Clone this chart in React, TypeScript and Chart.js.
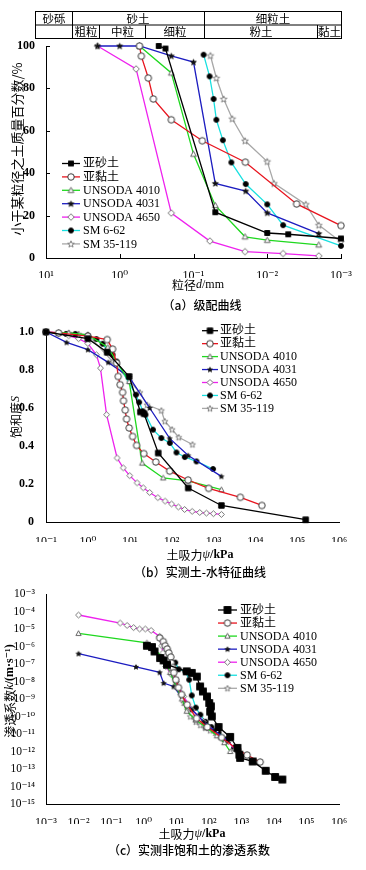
import React, { useEffect, useRef } from 'react';
import { Chart, registerables } from 'chart.js';

Chart.register(...registerables);

const SERIF = '"Liberation Serif", "DejaVu Serif", "Noto Sans CJK SC", serif';
const CJK = '"Noto Sans CJK SC", "Liberation Serif", sans-serif';

// ---------- series meta ----------
const seriesNames = ['亚砂土', '亚黏土', 'UNSODA 4010', 'UNSODA 4031', 'UNSODA 4650', 'SM 6-62', 'SM 35-119'];
const seriesColors = ['#000000', '#e8141e', '#1fd81f', '#1c1cc0', '#ee22ee', '#18e0e0', '#a8a8a8'];
const markerKinds = ['square', 'circle', 'triangle', 'star', 'diamond', 'circle', 'star'];
const markerFills = ['#000000', '#ffffff', '#ffffff', '#111111', '#ffffff', '#000000', '#ffffff'];
const markerStrokes = ['#000000', '#222222', '#555555', '#111111', '#666666', '#000000', '#777777'];
const markerSizesA = [5, 6.5, 6, 6, 6.5, 5, 7];
const markerSizesB = [5.5, 6.5, 5.5, 5, 6, 5, 6.5];
const markerSizesC = [7, 6.5, 5.5, 5, 6, 5, 6.5];

// ---------- (a) gradation curves: d (mm) vs percent finer ----------
const gradTickValues = [10, 1, 0.1, 0.01, 0.001];
const gradTickLabels = ['10¹', '10⁰', '10⁻¹', '10⁻²', '10⁻³'];
const percentTickValues = [0, 20, 40, 60, 80, 100];
const percentTickLabels = ['0', '20', '40', '60', '80', '100'];

const gradSandyD = [0.296, 0.24, 0.0507, 0.01, 0.0052, 0.001];
const gradSandyP = [100, 98.8, 21.6, 11.8, 11.2, 9.2];
const gradClayD = [0.54, 0.51, 0.41, 0.35, 0.2, 0.076, 0.0198, 0.004, 0.001];
const gradClayP = [100, 95.2, 84.9, 75, 65.2, 55.3, 45.2, 25.5, 15.3];
const grad4010D = [0.54, 0.2, 0.1, 0.0507, 0.02, 0.01, 0.002];
const grad4010P = [100, 87.3, 49, 24.8, 10, 8.4, 6.2];
const grad4031D = [2.0, 1.0, 0.54, 0.2, 0.1, 0.0507, 0.0196, 0.01, 0.002];
const grad4031P = [100, 100, 100, 95.3, 92.4, 35.2, 31.6, 21.3, 11.5];
const grad4650D = [2.0, 0.6, 0.2, 0.06, 0.02, 0.0061, 0.002];
const grad4650P = [100, 89.2, 21.2, 8, 3, 2.1, 1];
const gradSM662D = [0.073, 0.0605, 0.0534, 0.049, 0.04, 0.0307, 0.0196, 0.01, 0.0061, 0.001];
const gradSM662P = [95.9, 85.7, 75, 65.2, 55.6, 45.1, 34.9, 25.3, 15.5, 5.7];
const gradSM35119D = [0.059, 0.049, 0.039, 0.0298, 0.02, 0.01, 0.0081, 0.003, 0.002, 0.001];
const gradSM35119P = [95.5, 84.9, 75, 65.7, 55.3, 45.5, 35.2, 25.3, 15.5, 7.5];

// ---------- (b) soil-water characteristic curves: suction (kPa) vs saturation ----------
const suctionTickValuesB = [0.1, 1, 10, 100, 1000, 1e4, 1e5, 1e6];
const suctionTickLabelsB = ['10⁻¹', '10⁰', '10¹', '10²', '10³', '10⁴', '10⁵', '10⁶'];
const satTickValues = [0, 0.2, 0.4, 0.6, 0.8, 1.0];
const satTickLabels = ['0', '0.2', '0.4', '0.6', '0.8', '1.0'];

const swccSandyPsi = [0.1, 1.0, 2.9, 9.7, 18, 22, 48, 250, 1550, 160000];
const swccSandyS = [1.0, 0.965, 0.893, 0.766, 0.579, 0.57, 0.363, 0.179, 0.087, 0.012];
const swccClayPsi = [0.1, 0.2, 1.0, 2.9, 3.9, 4.85, 5.3, 5.9, 6.76, 7.1, 7.8, 8.4, 9.7, 11.7, 14.6, 21.7, 42, 90, 248, 770, 4400, 14400];
const swccClayS = [1.0, 0.995, 0.978, 0.96, 0.91, 0.837, 0.766, 0.723, 0.682, 0.638, 0.589, 0.542, 0.495, 0.45, 0.403, 0.36, 0.316, 0.268, 0.221, 0.177, 0.13, 0.087];
const swcc4010Psi = [0.2, 0.35, 1.0, 3.0, 5.0, 9.7, 19.8, 63, 248, 1550];
const swcc4010S = [0.995, 0.995, 0.985, 0.92, 0.84, 0.74, 0.31, 0.232, 0.216, 0.17];
const swcc4031Psi = [0.1, 0.31, 1.0, 3.06, 9.7, 30, 90, 250, 1550];
const swcc4031S = [1.0, 0.945, 0.907, 0.84, 0.763, 0.6, 0.44, 0.35, 0.24];
const swcc4650Psi = [0.1, 0.2, 0.35, 0.6, 1.0, 1.6, 2.0, 2.8, 5.0, 7.0, 10, 15, 21, 30, 47, 70, 100, 145, 205, 310, 470, 680, 1000, 1550];
const swcc4650S = [1.0, 0.995, 0.98, 0.965, 0.94, 0.88, 0.81, 0.565, 0.337, 0.285, 0.244, 0.206, 0.18, 0.155, 0.128, 0.11, 0.095, 0.079, 0.066, 0.056, 0.05, 0.047, 0.044, 0.04];
const swccSM662Psi = [0.1, 0.3, 0.5, 1.0, 1.6, 2.25, 2.9, 3.9, 4.85, 14, 16.8, 21, 23.8, 36, 57, 91, 131, 207, 393, 980];
const swccSM662S = [1.0, 0.99, 0.99, 0.98, 0.963, 0.938, 0.905, 0.88, 0.845, 0.67, 0.63, 0.582, 0.565, 0.486, 0.442, 0.416, 0.366, 0.342, 0.319, 0.279];
const swccSM35119Psi = [0.1, 0.2, 0.35, 0.6, 1.0, 3.9, 10, 17.5, 26, 57, 69, 103, 148, 316];
const swccSM35119S = [1.0, 0.995, 0.995, 0.99, 0.985, 0.845, 0.74, 0.682, 0.617, 0.587, 0.53, 0.487, 0.446, 0.408];

// ---------- (c) permeability: suction (kPa) vs k (m/s) ----------
const suctionTickValuesC = [1e-3, 1e-2, 0.1, 1, 10, 100, 1000, 1e4, 1e5, 1e6];
const suctionTickLabelsC = ['10⁻³', '10⁻²', '10⁻¹', '10⁰', '10¹', '10²', '10³', '10⁴', '10⁵', '10⁶'];
const kTickValues = [1e-3, 1e-4, 1e-5, 1e-6, 1e-7, 1e-8, 1e-9, 1e-10, 1e-11, 1e-12, 1e-13, 1e-14, 1e-15];
const kTickLabels = ['10⁻³', '10⁻⁴', '10⁻⁵', '10⁻⁶', '10⁻⁷', '10⁻⁸', '10⁻⁹', '10⁻¹⁰', '10⁻¹¹', '10⁻¹²', '10⁻¹³', '10⁻¹⁴', '10⁻¹⁵'];

const kSandyPsi = [1.26, 1.8, 2.16, 3.2, 4.1, 5.2, 21, 30, 43, 54, 66, 88, 103, 116, 110, 124, 200, 453, 760, 870, 918, 2240, 5600, 10900, 18200];
const kSandyK = [1.1e-6, 9.3e-7, 5.2e-7, 2.2e-7, 1.6e-7, 9.1e-8, 3.8e-8, 3.1e-8, 1.9e-8, 5.2e-9, 2.7e-9, 1.4e-9, 5.9e-10, 3.8e-10, 1.9e-10, 1.0e-10, 2.5e-11, 6.8e-12, 1.6e-12, 6.6e-13, 4.3e-13, 2.7e-13, 7.9e-14, 3.5e-14, 2.5e-14];
const kClayPsi = [3.1, 4.0, 4.6, 5.3, 5.9, 6.8, 7.1, 7.8, 8.4, 9.7, 11.7, 14.6, 21.7, 42, 90, 248, 770, 1500, 3780];
const kClayK = [3.1e-6, 1.9e-6, 1.1e-6, 7.2e-7, 4.3e-7, 2.5e-7, 1.15e-7, 6.3e-8, 3.2e-8, 1.26e-8, 4.5e-9, 1.8e-9, 4.7e-10, 7.9e-11, 2.5e-11, 6.3e-12, 1.26e-12, 6.3e-13, 2.5e-13];
const k4010Psi = [0.01, 1.26, 4.1, 6.5, 10, 15, 21, 40, 80, 178, 300, 453];
const k4010K = [5.6e-6, 1.6e-6, 2.2e-7, 3.3e-8, 5e-9, 1e-9, 2e-10, 6.3e-11, 2.5e-11, 7.9e-12, 3.2e-12, 1e-12];
const k4031Psi = [0.01, 0.58, 3.1, 4.1, 8.3, 15, 30, 70, 150, 400];
const k4031K = [3.9e-7, 6.8e-8, 3.3e-8, 8.1e-9, 5.2e-9, 1.26e-9, 2.5e-10, 5e-11, 1.6e-11, 4e-12];
const k4650Psi = [0.01, 0.19, 0.31, 0.49, 0.75, 1.12, 1.69, 3.1, 3.6, 3.9, 4.8, 7, 10, 17, 30, 69, 160, 400, 650];
const k4650K = [6.3e-5, 2.2e-5, 1.6e-5, 1.2e-5, 1e-5, 1e-5, 8.3e-6, 3.8e-6, 1.1e-6, 4.3e-7, 7.2e-8, 2.5e-8, 1e-8, 1.4e-9, 2.5e-10, 5.2e-11, 1.4e-11, 3.8e-12, 1.26e-12];
const kSM662Psi = [9.3, 12, 19, 25, 30, 40, 55, 80, 120, 200, 350, 600];
const kSM662K = [1.2e-7, 5e-8, 3.8e-8, 1.26e-8, 1.6e-9, 3.2e-10, 1.26e-10, 5e-11, 2.5e-11, 1.26e-11, 5e-12, 1.6e-12];
const kSM35119Psi = [10, 13, 17, 22, 27, 40, 55, 78, 110, 160, 230, 320];
const kSM35119K = [8e-9, 2.5e-9, 6e-10, 2.5e-10, 1e-10, 5e-11, 3.2e-11, 2.2e-11, 1.6e-11, 1.15e-11, 7e-12, 4.5e-12];

// ---------- helpers ----------
function makeMarker(kind: string, size: number, fill: string, stroke: string): HTMLCanvasElement {
  const s = Math.ceil(size + 3);
  const c = document.createElement('canvas');
  c.width = s;
  c.height = s;
  const g = c.getContext('2d')!;
  const cx = s / 2;
  const cy = s / 2;
  const r = size / 2;
  g.lineWidth = 0.9;
  g.fillStyle = fill;
  g.strokeStyle = stroke;
  g.beginPath();
  if (kind === 'square') {
    g.rect(cx - r, cy - r, 2 * r, 2 * r);
  } else if (kind === 'circle') {
    g.arc(cx, cy, r, 0, Math.PI * 2);
  } else if (kind === 'triangle') {
    g.moveTo(cx, cy - r);
    g.lineTo(cx + r * 0.95, cy + r * 0.75);
    g.lineTo(cx - r * 0.95, cy + r * 0.75);
    g.closePath();
  } else if (kind === 'diamond') {
    g.moveTo(cx, cy - r);
    g.lineTo(cx + r, cy);
    g.lineTo(cx, cy + r);
    g.lineTo(cx - r, cy);
    g.closePath();
  } else if (kind === 'star') {
    for (let i = 0; i < 10; i++) {
      const rr = i % 2 === 0 ? r : r * 0.42;
      const a = -Math.PI / 2 + (i * Math.PI) / 5;
      const px = cx + rr * Math.cos(a);
      const py = cy + rr * Math.sin(a) + r * 0.1;
      if (i === 0) g.moveTo(px, py);
      else g.lineTo(px, py);
    }
    g.closePath();
  }
  g.fill();
  g.stroke();
  return c;
}

function pts(xs: number[], ys: number[]) {
  return xs.map((x, i) => ({ x, y: ys[i] }));
}

function buildDatasets(xsList: number[][], ysList: number[][], sizes: number[]) {
  return xsList.map((xs, i) => ({
    label: seriesNames[i],
    data: pts(xs, ysList[i]),
    borderColor: seriesColors[i],
    backgroundColor: seriesColors[i],
    borderWidth: 1.3,
    pointStyle: makeMarker(markerKinds[i], sizes[i], markerFills[i], markerStrokes[i]) as any,
    pointRadius: 3,
    tension: 0,
    fill: false,
    clip: false as any,
  }));
}

type Seg = { t: string; f: string };

function drawRich(ctx: CanvasRenderingContext2D, segs: Seg[], cx: number, cy: number, rotate = false) {
  ctx.save();
  ctx.translate(cx, cy);
  if (rotate) ctx.rotate(-Math.PI / 2);
  let total = 0;
  const ws = segs.map((s) => {
    ctx.font = s.f;
    const w = ctx.measureText(s.t).width;
    total += w;
    return w;
  });
  let x = -total / 2;
  ctx.textBaseline = 'middle';
  ctx.textAlign = 'left';
  ctx.fillStyle = '#000';
  segs.forEach((s, i) => {
    ctx.font = s.f;
    ctx.fillText(s.t, x, 0);
    x += ws[i];
  });
  ctx.restore();
}

function drawInwardTicks(ctx: CanvasRenderingContext2D, chart: any, len: number) {
  const xs = chart.scales.x;
  const ys = chart.scales.y;
  const area = chart.chartArea;
  ctx.save();
  ctx.strokeStyle = '#000';
  ctx.lineWidth = 1;
  ctx.beginPath();
  xs.ticks.forEach((t: any) => {
    const px = Math.round(xs.getPixelForValue(t.value)) + 0.5;
    ctx.moveTo(px, area.bottom);
    ctx.lineTo(px, area.bottom - len);
  });
  ys.ticks.forEach((t: any) => {
    const py = Math.round(ys.getPixelForValue(t.value)) + 0.5;
    ctx.moveTo(area.left, py);
    ctx.lineTo(area.left + len, py);
  });
  ctx.stroke();
  ctx.restore();
}

function drawLegend(ctx: CanvasRenderingContext2D, chart: any, x0: number, x1: number, tx: number, y0: number, dy: number) {
  ctx.save();
  chart.data.datasets.forEach((ds: any, i: number) => {
    const y = y0 + i * dy;
    ctx.strokeStyle = ds.borderColor;
    ctx.lineWidth = ds.borderWidth;
    ctx.beginPath();
    ctx.moveTo(x0, y);
    ctx.lineTo(x1, y);
    ctx.stroke();
    const img = ds.pointStyle as HTMLCanvasElement;
    ctx.drawImage(img, (x0 + x1) / 2 - img.width / 2, y - img.height / 2);
    ctx.fillStyle = '#000';
    ctx.font = `12px ${SERIF}`;
    ctx.textBaseline = 'middle';
    ctx.textAlign = 'left';
    ctx.fillText(ds.label, tx, y + 0.5);
  });
  ctx.restore();
}

function drawTable(ctx: CanvasRenderingContext2D) {
  const L = 35.5, R = 341.5, T = 11.5, M = 25, B = 38.5;
  ctx.save();
  ctx.strokeStyle = '#000';
  ctx.lineWidth = 1;
  ctx.strokeRect(L, T, R - L, B - T);
  ctx.beginPath();
  ctx.moveTo(L, M);
  ctx.lineTo(R, M);
  [72.5, 204.5].forEach((x) => {
    ctx.moveTo(x, T);
    ctx.lineTo(x, B);
  });
  [99.5, 145.5, 317.5].forEach((x) => {
    ctx.moveTo(x, M);
    ctx.lineTo(x, B);
  });
  ctx.stroke();
  ctx.restore();
  const f = `11.5px ${CJK}`;
  drawRich(ctx, [{ t: '砂砾', f }], 54, 18.5);
  drawRich(ctx, [{ t: '砂土', f }], 138, 18.5);
  drawRich(ctx, [{ t: '细粒土', f }], 273, 18.5);
  drawRich(ctx, [{ t: '粗粒', f }], 86, 32);
  drawRich(ctx, [{ t: '中粒', f }], 122.5, 32);
  drawRich(ctx, [{ t: '细粒', f }], 175, 32);
  drawRich(ctx, [{ t: '粉土', f }], 261, 32);
  drawRich(ctx, [{ t: '黏土', f }], 329.5, 32);
}

type AxisSpec = {
  type: 'logarithmic' | 'linear';
  min: number;
  max: number;
  reverse?: boolean;
  values: number[];
  labels: string[];
  bold?: boolean;
  fontSize?: number;
  pad: number;
  isX: boolean;
  size: number;
};

function axis(o: AxisSpec) {
  return {
    type: o.type,
    min: o.min,
    max: o.max,
    reverse: !!o.reverse,
    grid: { display: false },
    border: { display: true, color: '#000', width: 1 },
    ticks: {
      color: '#000',
      font: { family: SERIF, size: o.fontSize || 12, weight: o.bold ? 'bold' : 'normal' },
      padding: o.pad,
      autoSkip: false,
      maxRotation: 0,
      minRotation: 0,
      callback: (_v: any, i: number) => o.labels[i],
    },
    afterBuildTicks: (s: any) => {
      s.ticks = o.values.map((v) => ({ value: v }));
    },
    afterFit: (s: any) => {
      if (o.isX) {
        s.height = o.size;
        s.paddingLeft = 0;
        s.paddingRight = 0;
      } else {
        s.width = o.size;
        s.paddingTop = 0;
        s.paddingBottom = 0;
      }
    },
  };
}

type ChartSpec = {
  top: number;
  datasets: any[];
  x: any;
  y: any;
  padding: { top: number; right: number; bottom: number; left: number };
  decor: (ctx: CanvasRenderingContext2D, chart: any) => void;
};

function buildChart(canvas: HTMLCanvasElement, spec: ChartSpec) {
  const decorPlugin = {
    id: 'decor',
    afterDraw(chart: any) {
      const ctx = chart.ctx as CanvasRenderingContext2D;
      ctx.save();
      ctx.translate(0, -spec.top);
      spec.decor(ctx, chart);
      ctx.restore();
    },
  };
  return new Chart(canvas, {
    type: 'line',
    data: { datasets: spec.datasets },
    options: {
      responsive: false,
      maintainAspectRatio: false,
      animation: false,
      layout: { padding: spec.padding },
      plugins: { legend: { display: false }, tooltip: { enabled: false }, title: { display: false } },
      scales: { x: spec.x, y: spec.y },
    } as any,
    plugins: [decorPlugin],
  });
}

const cjk12 = `12px ${CJK}`;
const serif12 = `12px ${SERIF}`;
const serifIt12 = `italic 12px ${SERIF}`;
const serifBold12 = `bold 12px ${SERIF}`;
const captionFont = `500 12px ${CJK}`;

function buildA(canvas: HTMLCanvasElement) {
  const top = 0;
  return buildChart(canvas, {
    top,
    datasets: buildDatasets(
      [gradSandyD, gradClayD, grad4010D, grad4031D, grad4650D, gradSM662D, gradSM35119D],
      [gradSandyP, gradClayP, grad4010P, grad4031P, grad4650P, gradSM662P, gradSM35119P],
      markerSizesA
    ),
    x: axis({ type: 'logarithmic', min: 0.001, max: 10, reverse: true, values: gradTickValues, labels: gradTickLabels, pad: 3, isX: true, size: 20 }),
    y: axis({ type: 'linear', min: 0, max: 100, values: percentTickValues, labels: percentTickLabels, bold: true, pad: 3, isX: false, size: 46 }),
    padding: { top: 46, right: 25, bottom: 34, left: 0 },
    decor: (ctx, chart) => {
      drawTable(ctx);
      drawInwardTicks(ctx, chart, 4);
      drawLegend(ctx, chart, 62, 80, 83, 163.5, 13.4);
      drawRich(ctx, [{ t: '小于某粒径之土质量百分数/%', f: `13px ${CJK}` }], 17, 149, true);
      drawRich(ctx, [{ t: '粒径', f: cjk12 }, { t: 'd', f: serifIt12 }, { t: '/mm', f: serif12 }], 198, 285);
      drawRich(ctx, [{ t: '（a）级配曲线', f: captionFont }], 202, 305);
    },
  });
}

function buildB(canvas: HTMLCanvasElement) {
  const top = 312;
  return buildChart(canvas, {
    top,
    datasets: buildDatasets(
      [swccSandyPsi, swccClayPsi, swcc4010Psi, swcc4031Psi, swcc4650Psi, swccSM662Psi, swccSM35119Psi],
      [swccSandyS, swccClayS, swcc4010S, swcc4031S, swcc4650S, swccSM662S, swccSM35119S],
      markerSizesB
    ),
    x: axis({ type: 'logarithmic', min: 0.1, max: 1e6, values: suctionTickValuesB, labels: suctionTickLabelsB, pad: 5, isX: true, size: 20 }),
    y: axis({ type: 'linear', min: 0, max: 1, values: satTickValues, labels: satTickLabels, bold: true, pad: 4, isX: false, size: 46 }),
    padding: { top: 20, right: 27, bottom: 38, left: 0 },
    decor: (ctx, chart) => {
      drawInwardTicks(ctx, chart, 4);
      drawLegend(ctx, chart, 202, 218, 220, 330.7, 12.95);
      drawRich(ctx, [{ t: '饱和度', f: cjk12 }, { t: 'S', f: `italic 12px ${SERIF}` }], 16, 417, true);
      drawRich(ctx, [{ t: '土吸力', f: cjk12 }, { t: 'ψ', f: serifIt12 }, { t: '/kPa', f: serifBold12 }], 200, 555);
      drawRich(ctx, [{ t: '（b）实测土-水特征曲线', f: captionFont }], 200, 572);
    },
  });
}

function buildC(canvas: HTMLCanvasElement) {
  const top = 580;
  return buildChart(canvas, {
    top,
    datasets: buildDatasets(
      [kSandyPsi, kClayPsi, k4010Psi, k4031Psi, k4650Psi, kSM662Psi, kSM35119Psi],
      [kSandyK, kClayK, k4010K, k4031K, k4650K, kSM662K, kSM35119K],
      markerSizesC
    ),
    x: axis({ type: 'logarithmic', min: 1e-3, max: 1e6, values: suctionTickValuesC, labels: suctionTickLabelsC, pad: 4, isX: true, size: 20 }),
    y: axis({ type: 'logarithmic', min: 1e-15, max: 1e-3, values: kTickValues, labels: kTickLabels, fontSize: 11.5, pad: 3, isX: false, size: 46 }),
    padding: { top: 14, right: 27, bottom: 46, left: 0 },
    decor: (ctx, chart) => {
      drawInwardTicks(ctx, chart, 4);
      drawLegend(ctx, chart, 218, 237, 240, 610, 13.05);
      drawRich(
        ctx,
        [
          { t: '渗透系数', f: cjk12 },
          { t: 'k', f: serifIt12 },
          { t: '/(m·s⁻¹)', f: serifBold12 },
        ],
        10,
        691,
        true
      );
      drawRich(ctx, [{ t: '土吸力', f: cjk12 }, { t: 'ψ', f: serifIt12 }, { t: '/kPa', f: serifBold12 }], 192, 834);
      drawRich(ctx, [{ t: '（c）实测非饱和土的渗透系数', f: captionFont }], 189, 850);
    },
  });
}

function ChartCanvas({ top, height, build }: { top: number; height: number; build: (c: HTMLCanvasElement) => Chart }) {
  const ref = useRef<HTMLCanvasElement>(null);
  useEffect(() => {
    const chart = build(ref.current!);
    return () => chart.destroy();
  }, []);
  return (
    <canvas
      ref={ref}
      width={366}
      height={height}
      style={{ position: 'absolute', left: 0, top, width: 366, height, display: 'block' }}
    />
  );
}

export default function App() {
  return (
    <div style={{ position: 'absolute', left: 0, top: 0, width: 366, height: 870, background: '#ffffff', overflow: 'hidden' }}>
      <ChartCanvas top={0} height={312} build={buildA} />
      <ChartCanvas top={312} height={268} build={buildB} />
      <ChartCanvas top={580} height={290} build={buildC} />
    </div>
  );
}
